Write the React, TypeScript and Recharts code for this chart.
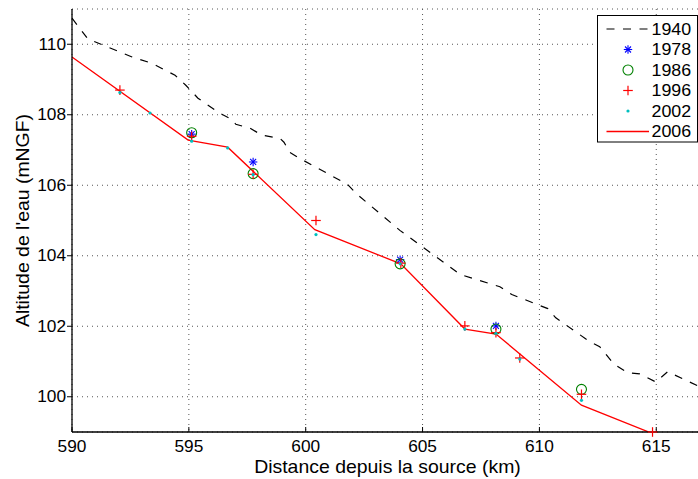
import React from 'react';
import { LineChart, Line, XAxis, YAxis, CartesianGrid, Legend } from 'recharts';

// ---- data ----
const DIST_1940 = [590.0, 590.68, 592.57, 593.42, 594.41, 594.88, 595.39, 596.33, 596.84, 597.01, 597.61, 598.13, 598.9, 599.07, 599.32, 599.75, 601.8, 602.15, 604.03, 606.38, 606.6, 608.31, 608.82, 610.36, 610.7, 612.16, 612.58, 613.18, 613.78, 614.29, 614.98, 615.49, 616.77, 617.0];
const ALT_1940 = [110.74, 110.15, 109.64, 109.46, 109.12, 108.83, 108.47, 108.04, 107.87, 107.73, 107.62, 107.42, 107.33, 107.22, 106.93, 106.76, 106.02, 105.77, 104.72, 103.58, 103.47, 103.12, 102.9, 102.5, 102.24, 101.56, 101.42, 100.93, 100.68, 100.65, 100.42, 100.71, 100.31, 100.25];

const DIST_1978 = [595.12, 597.75, 604.04, 608.14];
const ALT_1978 = [107.45, 106.66, 103.89, 102.01];

const DIST_1986 = [595.12, 597.75, 604.04, 608.14, 611.8];
const ALT_1986 = [107.49, 106.33, 103.77, 101.92, 100.21];

const DIST_1996 = [592.05, 595.12, 597.75, 600.44, 604.07, 606.81, 608.14, 609.16, 611.8, 614.84];
const ALT_1996 = [108.7, 107.39, 106.31, 105.0, 103.79, 102.01, 101.82, 101.1, 100.07, 99.0];

const DIST_2002 = [592.05, 593.34, 595.12, 596.66, 597.75, 600.44, 604.04, 606.81, 608.14, 609.16, 611.8];
const ALT_2002 = [108.63, 108.05, 107.25, 107.06, 106.3, 104.6, 103.77, 101.92, 101.8, 101.07, 99.9];

const DIST_2006 = [590.0, 594.97, 596.66, 600.39, 604.07, 606.81, 608.14, 611.8, 614.94];
const ALT_2006 = [109.64, 107.28, 107.08, 104.74, 103.77, 101.92, 101.78, 99.76, 98.93];

const X_TICKS = [590, 595, 600, 605, 610, 615];
const Y_TICKS = [100, 102, 104, 106, 108, 110];
const X_DOMAIN = [590, 617];
const Y_DOMAIN = [99, 111];

const SERIES_NAMES = ['1940', '1978', '1986', '1996', '2002', '2006'];
const X_TITLE = 'Distance depuis la source (km)';
const Y_TITLE = "Altitude de l'eau (mNGF)";

const zip = (xs: number[], ys: number[]) => xs.map((x, i) => ({ x, y: ys[i] }));
const d1940 = zip(DIST_1940, ALT_1940);
const d1978 = zip(DIST_1978, ALT_1978);
const d1986 = zip(DIST_1986, ALT_1986);
const d1996 = zip(DIST_1996, ALT_1996);
const d2002 = zip(DIST_2002, ALT_2002);
const d2006 = zip(DIST_2006, ALT_2006);

// ---- styles ----
const FONT = '"Liberation Sans", Arial, Helvetica, sans-serif';
const FS = 16;
const FS_TITLE = 18;
const FS_LEGEND = 16.5;
const SX = 1.08;
const BLUE = '#0000ff';
const GREEN = '#008000';
const RED = '#ff0000';
const CYAN = '#00bfbf';
const DASH = '8 8.5';

const Star = ({ cx, cy, c = BLUE }: any) => {
  const h = 4.2;
  const d = 3;
  return (
    <g stroke={c} strokeWidth={1.1}>
      <line x1={cx - h} y1={cy} x2={cx + h} y2={cy} />
      <line x1={cx} y1={cy - h} x2={cx} y2={cy + h} />
      <line x1={cx - d} y1={cy - d} x2={cx + d} y2={cy + d} />
      <line x1={cx - d} y1={cy + d} x2={cx + d} y2={cy - d} />
    </g>
  );
};
const Circ = ({ cx, cy }: any) => <circle cx={cx} cy={cy} r={5} fill="none" stroke={GREEN} strokeWidth={1.1} />;
const Plus = ({ cx, cy }: any) => {
  const h = 4.8;
  return (
    <g stroke={RED} strokeWidth={1.2}>
      <line x1={cx - h} y1={cy} x2={cx + h} y2={cy} />
      <line x1={cx} y1={cy - h} x2={cx} y2={cy + h} />
    </g>
  );
};
const Dot = ({ cx, cy }: any) => <circle cx={cx} cy={cy} r={1.6} fill={CYAN} stroke="none" />;

const mk = (Comp: any) => (p: any) => <Comp key={`m-${p.index}`} cx={p.cx} cy={p.cy} />;

const XTick = ({ x, y, payload }: any) => (
  <g transform={`translate(${x},${y})`}>
    <text transform={`scale(${SX},1)`} textAnchor="middle" dy="0.71em" fontSize={FS} fontFamily={FONT} fill="#000">
      {payload.value}
    </text>
  </g>
);
const YTick = ({ x, y, payload }: any) => (
  <g transform={`translate(${x},${y})`}>
    <text transform={`scale(${SX},1)`} textAnchor="end" dy="0.355em" fontSize={FS} fontFamily={FONT} fill="#000">
      {payload.value}
    </text>
  </g>
);

const XTitle = (props: any) => {
  const vb = props.viewBox || { x: 72, width: 631 };
  const cx = vb.x + vb.width / 2;
  return (
    <g transform={`translate(${cx},472.5)`}>
      <text transform={`scale(${SX},1)`} textAnchor="middle" fontSize={FS_TITLE} fontFamily={FONT} fill="#000">
        {X_TITLE}
      </text>
    </g>
  );
};
const YTitle = (props: any) => {
  const vb = props.viewBox || { y: 9, height: 423 };
  const cy = vb.y + vb.height / 2;
  return (
    <g transform={`translate(28.5,${cy}) rotate(-90)`}>
      <text transform={`scale(${SX},1)`} textAnchor="middle" fontSize={FS_TITLE} fontFamily={FONT} fill="#000">
        {Y_TITLE}
      </text>
    </g>
  );
};

const LegendBox = () => {
  const rowY = (i: number) => 14 + i * 20.5;
  const mx = 31;
  return (
    <svg width={101} height={128} style={{ display: 'block' }}>
      <rect x={0.5} y={0.5} width={100} height={126.5} fill="#fff" stroke="#000" strokeWidth={1} />
      <line x1={9.5} y1={rowY(0)} x2={52} y2={rowY(0)} stroke="#000" strokeWidth={1.2} strokeDasharray={DASH} />
      <Star cx={mx} cy={rowY(1)} />
      <Circ cx={mx} cy={rowY(2)} />
      <Plus cx={mx} cy={rowY(3)} />
      <Dot cx={mx} cy={rowY(4)} />
      <line x1={9.5} y1={rowY(5)} x2={52} y2={rowY(5)} stroke={RED} strokeWidth={1.3} />
      {SERIES_NAMES.map((n, i) => (
        <g key={n} transform={`translate(54.5,${rowY(i)})`}>
          <text transform={`scale(${SX},1)`} dy="0.355em" fontSize={FS_LEGEND} fontFamily={FONT} fill="#000">
            {n}
          </text>
        </g>
      ))}
    </svg>
  );
};

export default function App() {
  return (
    <div style={{ position: 'fixed', left: 0, top: 0, width: 698, height: 479, overflow: 'hidden', background: '#fff' }}>
      <LineChart width={720} height={479} margin={{ top: 9, right: 17, bottom: 0, left: 0 }}>
        <CartesianGrid stroke="#555" strokeDasharray="1 4" strokeWidth={1} />
        <XAxis
          dataKey="x"
          type="number"
          domain={X_DOMAIN}
          ticks={X_TICKS}
          height={47}
          tickSize={-5}
          tickMargin={14}
          tick={<XTick />}
          axisLine={{ stroke: '#000', strokeWidth: 1.3 }}
          tickLine={{ stroke: '#000', strokeWidth: 1 }}
          label={{ content: (p: any) => <XTitle {...p} /> }}
        />
        <XAxis
          xAxisId="top"
          orientation="top"
          type="number"
          domain={X_DOMAIN}
          ticks={X_TICKS}
          height={0}
          tick={false}
          tickSize={-5}
          axisLine={{ stroke: '#000', strokeWidth: 1.3 }}
          tickLine={{ stroke: '#000', strokeWidth: 1 }}
        />
        <YAxis
          dataKey="y"
          type="number"
          domain={Y_DOMAIN}
          ticks={Y_TICKS}
          allowDataOverflow
          width={72}
          tickSize={5}
          tickMargin={1}
          tick={<YTick />}
          axisLine={{ stroke: '#000', strokeWidth: 1.3 }}
          tickLine={{ stroke: '#000', strokeWidth: 1 }}
          label={{ content: (p: any) => <YTitle {...p} /> }}
        />
        <YAxis yAxisId="m" type="number" domain={Y_DOMAIN} hide />
        <Legend
          layout="vertical"
          align="center"
          verticalAlign="middle"
          wrapperStyle={{ position: 'absolute', left: 597, top: 15, width: 101, height: 128, lineHeight: 0 }}
          content={() => <LegendBox />}
        />
        <Line data={d1940} dataKey="y" name="1940" stroke="#000" strokeWidth={1.2} strokeDasharray={DASH} dot={false} activeDot={false} isAnimationActive={false} />
        <Line yAxisId="m" data={d1978} dataKey="y" name="1978" stroke="none" dot={mk(Star)} activeDot={false} isAnimationActive={false} />
        <Line yAxisId="m" data={d1986} dataKey="y" name="1986" stroke="none" dot={mk(Circ)} activeDot={false} isAnimationActive={false} />
        <Line yAxisId="m" data={d1996} dataKey="y" name="1996" stroke="none" dot={mk(Plus)} activeDot={false} isAnimationActive={false} />
        <Line yAxisId="m" data={d2002} dataKey="y" name="2002" stroke="none" dot={mk(Dot)} activeDot={false} isAnimationActive={false} />
        <Line data={d2006} dataKey="y" name="2006" stroke={RED} strokeWidth={1.3} dot={false} activeDot={false} isAnimationActive={false} />
      </LineChart>
    </div>
  );
}
